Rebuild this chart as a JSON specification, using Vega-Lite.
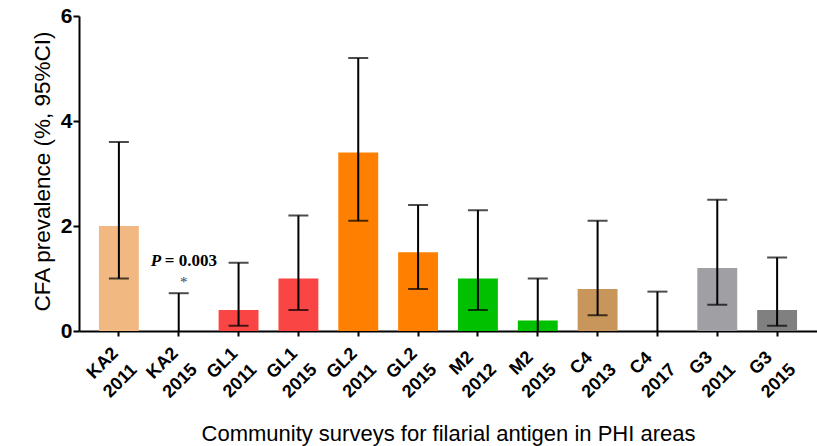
{
  "$schema": "https://vega.github.io/schema/vega-lite/v6.json",
  "autosize": "none",
  "padding": {"left": 79, "top": 16, "right": 0, "bottom": 115},
  "width": 738,
  "height": 315,
  "background": "white",
  "config": {
    "view": {"stroke": null},
    "font": "Liberation Sans",
    "axis": {
      "domainColor": "black",
      "domainWidth": 2,
      "tickColor": "black",
      "tickWidth": 2,
      "tickSize": 6,
      "labelColor": "black",
      "labelFont": "Liberation Sans",
      "labelFontWeight": "bold",
      "titleColor": "black",
      "titleFont": "Liberation Sans",
      "titleFontWeight": "normal",
      "titleFontSize": 22,
      "grid": false
    }
  },
  "datasets": {
    "bars": [
      {"label": "KA2 2011", "value": 2.0, "lower": 1.0, "upper": 3.6},
      {"label": "KA2 2015", "value": 0, "lower": 0, "upper": 0.72},
      {"label": "GL1 2011", "value": 0.4, "lower": 0.1, "upper": 1.3},
      {"label": "GL1 2015", "value": 1.0, "lower": 0.4, "upper": 2.2},
      {"label": "GL2 2011", "value": 3.4, "lower": 2.1, "upper": 5.2},
      {"label": "GL2 2015", "value": 1.5, "lower": 0.8, "upper": 2.4},
      {"label": "M2 2012", "value": 1.0, "lower": 0.4, "upper": 2.3},
      {"label": "M2 2015", "value": 0.2, "lower": 0, "upper": 1.0},
      {"label": "C4 2013", "value": 0.8, "lower": 0.3, "upper": 2.1},
      {"label": "C4 2017", "value": 0, "lower": 0, "upper": 0.75},
      {"label": "G3 2011", "value": 1.2, "lower": 0.5, "upper": 2.5},
      {"label": "G3 2015", "value": 0.4, "lower": 0.1, "upper": 1.4}
    ],
    "notes": [
      {"label": "KA2 2015", "y": 1.24, "txt": "P", "part": "p"},
      {"label": "KA2 2015", "y": 1.24, "txt": "= 0.003", "part": "val"},
      {"label": "KA2 2015", "y": 0.84, "txt": "*", "part": "star"}
    ]
  },
  "encoding": {
    "x": {
      "field": "label",
      "type": "nominal",
      "scale": {
        "domain": ["KA2 2011", "KA2 2015", "GL1 2011", "GL1 2015", "GL2 2011", "GL2 2015", "M2 2012", "M2 2015", "C4 2013", "C4 2017", "G3 2011", "G3 2015"],
        "paddingInner": 0.3333,
        "paddingOuter": 0.3333
      },
      "axis": {
        "title": "Community surveys for filarial antigen in PHI areas",
        "labelAngle": -45,
        "labelAlign": "center",
        "labelBaseline": "middle",
        "labelFontSize": 18,
        "labelLineHeight": 25,
        "labelPadding": 27,
        "labelOffset": -16,
        "labelOverlap": false,
        "labelBound": false,
        "tickSize": 5,
        "labelExpr": "split(datum.label, ' ')",
        "titleX": 369,
        "titleY": 109,
        "titleAlign": "center",
        "titleBaseline": "alphabetic"
      }
    }
  },
  "layer": [
    {
      "data": {"name": "bars"},
      "mark": {"type": "bar"},
      "encoding": {
        "y": {
          "field": "value",
          "type": "quantitative",
          "scale": {"domain": [0, 6], "nice": false},
          "axis": {
            "title": "CFA prevalence (%, 95%CI)",
            "values": [0, 2, 4, 6],
            "labelFontSize": 21,
            "labelPadding": 1,
            "titleFontSize": 22.5,
            "titleAngle": -90,
            "titleX": -30,
            "titleY": 155,
            "titleAlign": "center",
            "titleBaseline": "alphabetic"
          }
        },
        "color": {
          "field": "label",
          "type": "nominal",
          "legend": null,
          "scale": {
            "domain": ["KA2 2011", "KA2 2015", "GL1 2011", "GL1 2015", "GL2 2011", "GL2 2015", "M2 2012", "M2 2015", "C4 2013", "C4 2017", "G3 2011", "G3 2015"],
            "range": ["#F2B882", "#F2B882", "#FA4545", "#FA4545", "#FF8000", "#FF8000", "#00C000", "#00C000", "#C8965A", "#C8965A", "#A09FA4", "#808080"]
          }
        }
      }
    },
    {
      "data": {"name": "bars"},
      "mark": {"type": "rule", "color": "black", "strokeWidth": 2},
      "encoding": {
        "y": {"field": "lower", "type": "quantitative"},
        "y2": {"field": "upper"}
      }
    },
    {
      "data": {"name": "bars"},
      "mark": {"type": "tick", "color": "black", "thickness": 2, "size": 20},
      "encoding": {
        "y": {"field": "upper", "type": "quantitative"}
      }
    },
    {
      "data": {"name": "bars"},
      "transform": [{"filter": "datum.lower > 0"}],
      "mark": {"type": "tick", "color": "black", "thickness": 2, "size": 20},
      "encoding": {
        "y": {"field": "lower", "type": "quantitative"}
      }
    },
    {
      "data": {"name": "notes"},
      "transform": [{"filter": "datum.part == 'p'"}],
      "mark": {"type": "text", "font": "Liberation Serif", "fontWeight": "bold", "fontStyle": "italic", "fontSize": 17, "align": "left", "baseline": "alphabetic", "dx": -28, "color": "black"},
      "encoding": {
        "y": {"field": "y", "type": "quantitative"},
        "text": {"field": "txt"}
      }
    },
    {
      "data": {"name": "notes"},
      "transform": [{"filter": "datum.part == 'val'"}],
      "mark": {"type": "text", "font": "Liberation Serif", "fontWeight": "bold", "fontSize": 17, "align": "left", "baseline": "alphabetic", "dx": -14, "color": "black"},
      "encoding": {
        "y": {"field": "y", "type": "quantitative"},
        "text": {"field": "txt"}
      }
    },
    {
      "data": {"name": "notes"},
      "transform": [{"filter": "datum.part == 'star'"}],
      "mark": {"type": "text", "font": "Liberation Serif", "fontSize": 15, "align": "center", "baseline": "alphabetic", "dx": 5, "color": "#444444"},
      "encoding": {
        "y": {"field": "y", "type": "quantitative"},
        "text": {"field": "txt"}
      }
    }
  ]
}
